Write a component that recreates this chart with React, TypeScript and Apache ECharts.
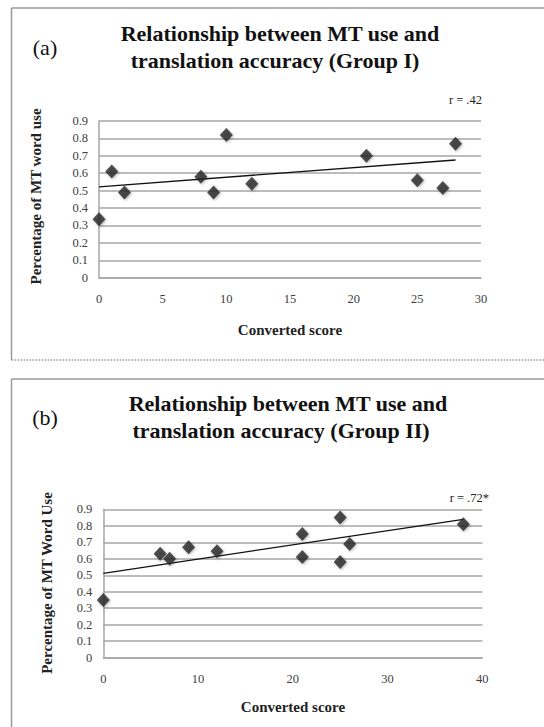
import React, { useEffect, useRef } from "react";
import * as echarts from "echarts";

// Panel (a) Group I
const scoreA = [0, 1, 2, 8, 9, 10, 12, 21, 25, 27, 28];
const mtUseA = [0.335, 0.61, 0.49, 0.58, 0.49, 0.82, 0.54, 0.70, 0.56, 0.515, 0.77];
const trendA = [[0, 0.522], [28, 0.676]];
// Panel (b) Group II
const scoreB = [0, 6, 7, 9, 12, 21, 21, 25, 25, 26, 38];
const mtUseB = [0.35, 0.63, 0.60, 0.67, 0.645, 0.61, 0.75, 0.58, 0.85, 0.69, 0.81];
const trendB = [[0, 0.512], [38, 0.839]];

const yTicks = [0, 0.1, 0.2, 0.3, 0.4, 0.5, 0.6, 0.7, 0.8, 0.9];

const SERIF = "'Liberation Serif', 'Times New Roman', serif";
const GRID_COLOR = "#a6a6a6";
const MARK_COLOR = "#262626";
const FRAME = "#9a9a9a";

export default function App() {
  const ref = useRef<HTMLDivElement>(null);
  useEffect(() => {
    if (!ref.current) return;
    const chart = echarts.init(ref.current, undefined, { renderer: "svg" });
    const mkY = (gi: number) => ({
      type: "value",
      gridIndex: gi,
      min: 0,
      max: 0.9,
      interval: 0.1,
      axisLine: { show: true, lineStyle: { color: GRID_COLOR, width: 1.5 } },
      axisTick: { show: false },
      axisLabel: {
        margin: 11,
        fontFamily: SERIF,
        fontSize: 12.5,
        color: "#404040",
        formatter: (v: number) => {
          const t = yTicks.find((k) => Math.abs(k - v) < 1e-6);
          return t === undefined ? "" : String(t);
        },
      },
      splitLine: { show: true, lineStyle: { color: GRID_COLOR, width: 1.5 } },
    });
    const mkX = (gi: number, max: number, interval: number) => ({
      type: "value",
      gridIndex: gi,
      min: 0,
      max,
      interval,
      axisLine: { show: true, onZero: false, lineStyle: { color: GRID_COLOR, width: 1.5 } },
      axisTick: { show: false },
      axisLabel: { margin: 15, fontFamily: SERIF, fontSize: 12.5, color: "#404040" },
      splitLine: { show: false },
    });
    const scatter = (gi: number, xs: number[], ys: number[]) => ({
      type: "scatter",
      xAxisIndex: gi,
      yAxisIndex: gi,
      symbol: "diamond",
      symbolSize: [13, 14],
      itemStyle: {
        color: MARK_COLOR,
        shadowColor: "rgba(0,0,0,0.35)",
        shadowBlur: 3,
        shadowOffsetX: 1,
        shadowOffsetY: 1,
      },
      data: xs.map((x, i) => [x, ys[i]]),
      z: 3,
    });
    const trend = (gi: number, pts: number[][]) => ({
      type: "line",
      xAxisIndex: gi,
      yAxisIndex: gi,
      showSymbol: false,
      symbol: "none",
      lineStyle: { color: "#111", width: 1.3 },
      data: pts,
      z: 2,
    });
    const titleStyle = {
      fontFamily: SERIF,
      fontSize: 22,
      fontWeight: "bold",
      fill: "#111",
      textAlign: "center",
      textVerticalAlign: "middle",
    };
    const lbl = (text: string, x: number, y: number, extra: any = {}) => ({
      type: "text",
      x,
      y,
      ...extra.el,
      style: {
        text,
        fontFamily: SERIF,
        fill: "#222",
        textAlign: "center",
        textVerticalAlign: "middle",
        ...extra.style,
      },
    });
    const frameLine = (x1: number, y1: number, x2: number, y2: number, dashed = false) => ({
      type: "line",
      shape: { x1, y1, x2, y2 },
      style: { stroke: FRAME, lineWidth: 1.5, lineDash: dashed ? [1.5, 1.5] : null },
      z: -1,
    });
    chart.setOption({
      animation: false,
      backgroundColor: "#fff",
      grid: [
        { left: 99, top: 121, width: 382, height: 156.7 },
        { left: 103.3, top: 509.3, width: 379, height: 148.4 },
      ],
      xAxis: [mkX(0, 30, 5), mkX(1, 40, 10)],
      yAxis: [mkY(0), mkY(1)],
      series: [
        trend(0, trendA),
        scatter(0, scoreA, mtUseA),
        trend(1, trendB),
        scatter(1, scoreB, mtUseB),
      ],
      graphic: [
        frameLine(11.5, 8, 544, 8),
        frameLine(11.5, 8, 11.5, 360),
        frameLine(11.5, 360, 544, 360, true),
        frameLine(11.5, 379, 544, 379),
        frameLine(11.5, 379, 11.5, 727),
        { type: "text", x: 280, y: 33, style: { ...titleStyle, text: "Relationship between MT use and" } },
        { type: "text", x: 275, y: 60, style: { ...titleStyle, text: "translation accuracy (Group I)" } },
        { type: "text", x: 288, y: 403, style: { ...titleStyle, text: "Relationship between MT use and" } },
        { type: "text", x: 281, y: 430, style: { ...titleStyle, text: "translation accuracy (Group II)" } },
        lbl("(a)", 45, 47, { style: { fontSize: 22, fill: "#111" } }),
        lbl("(b)", 45, 417, { style: { fontSize: 22, fill: "#111" } }),
        lbl("r = .42", 482, 100, { style: { fontSize: 12.5, textAlign: "right" } }),
        lbl("r = .72*", 489, 498, { style: { fontSize: 12.5, textAlign: "right" } }),
        lbl("Converted score", 290, 330, { style: { fontSize: 15, fontWeight: "bold" } }),
        lbl("Converted score", 293, 707, { style: { fontSize: 15, fontWeight: "bold" } }),
        lbl("Percentage of MT word use", 36, 196.5, {
          el: { rotation: Math.PI / 2 },
          style: { fontSize: 15, fontWeight: "bold" },
        }),
        lbl("Percentage of MT Word Use", 47, 583, {
          el: { rotation: Math.PI / 2 },
          style: { fontSize: 15, fontWeight: "bold" },
        }),
      ],
    });
    return () => chart.dispose();
  }, []);
  return (
    <div
      ref={ref}
      style={{ position: "fixed", left: 0, top: 0, width: 544, height: 727 }}
    />
  );
}
